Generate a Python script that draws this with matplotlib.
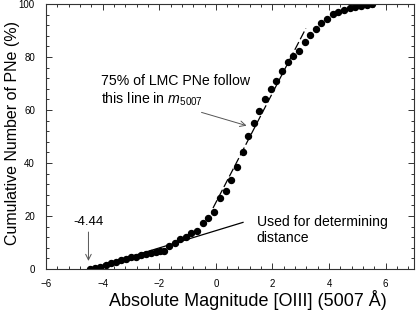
import matplotlib
matplotlib.use("Agg")
import matplotlib.pyplot as plt
from matplotlib.ticker import MultipleLocator

plt.rcParams['font.family'] = ['Liberation Sans', 'DejaVu Sans']
plt.rcParams['mathtext.fontset'] = 'custom'
plt.rcParams['mathtext.rm'] = 'Liberation Sans'
plt.rcParams['mathtext.it'] = 'Liberation Sans:italic'

# Cumulative PNLF points
mag = [-4.45, -4.27, -4.09, -3.89, -3.71, -3.54, -3.35, -3.19, -3.00, -2.83,
       -2.65, -2.47, -2.29, -2.12, -1.98, -1.82, -1.65, -1.45, -1.25, -1.06,
       -0.86, -0.66, -0.47, -0.27, -0.08, 0.13, 0.35, 0.55, 0.75, 0.95,
       1.14, 1.35, 1.54, 1.74, 1.94, 2.14, 2.34, 2.54, 2.74, 2.93,
       3.14, 3.34, 3.53, 3.73, 3.93, 4.14, 4.32, 4.53, 4.73, 4.93,
       5.14, 5.34, 5.53]
cum = [0.0, 0.4, 0.9, 1.5, 2.1, 2.6, 3.3, 3.8, 4.4, 4.7,
       5.3, 5.7, 6.2, 6.5, 6.8, 6.9, 8.7, 9.9, 11.3, 12.2,
       13.5, 14.2, 17.2, 19.3, 21.5, 26.7, 29.5, 33.6, 38.4, 44.3,
       50.2, 55.0, 59.7, 64.0, 67.8, 71.1, 74.8, 78.1, 80.4, 82.4,
       85.8, 88.4, 90.4, 92.7, 94.4, 96.2, 97.1, 97.7, 98.4, 99.0,
       99.4, 99.7, 100.0]

# straight-line fits drawn on the chart
solid_x = [-4.44, 0.96]
solid_y = [0.0, 17.6]
dash_x = [-0.10, 3.18]
dash_y = [23.0, 90.8]

fig = plt.figure(figsize=(4.2, 3.16), dpi=100)
ax = fig.add_axes([0.1095, 0.1487, 0.8762, 0.8386])

ax.plot(solid_x, solid_y, color='black', lw=0.9)
ax.plot(dash_x, dash_y, color='black', lw=0.9, dashes=(7, 2.5))
ax.plot(mag, cum, 'o', color='black', ms=4.3, mec='black')

ax.set_xlim(-6, 7)
ax.set_ylim(0, 100)
ax.xaxis.set_major_locator(MultipleLocator(2))
ax.xaxis.set_minor_locator(MultipleLocator(0.4))
ax.yaxis.set_major_locator(MultipleLocator(20))
ax.yaxis.set_minor_locator(MultipleLocator(4))
ax.tick_params(which='both', direction='in', top=True, right=True,
               labelsize=7, width=0.7, color='#333333')
ax.tick_params(axis='x', which='major', pad=7)
ax.tick_params(axis='y', which='major', pad=8)
ax.tick_params(which='major', length=4.5)
ax.tick_params(which='minor', length=2.5)
for s in ax.spines.values():
    s.set_linewidth(0.8)
    s.set_color('#333333')

ax.set_xlabel('Absolute Magnitude [OIII] (5007 Å)', fontsize=13)
ax.set_ylabel('Cumulative Number of PNe (%)', fontsize=11.5)
ax.xaxis.set_label_coords(0.548, -0.117)
ax.yaxis.set_label_coords(-0.092, 0.515)
ax.xaxis.label.set_va('center')
ax.yaxis.label.set_va('center')

# annotations
ax.annotate('', xy=(-4.50, 2.0), xytext=(-4.50, 15.0),
            arrowprops=dict(arrowstyle='->', color='#555555', lw=0.7))
ax.text(-4.50, 17.8, '-4.44', fontsize=9.5, ha='center', va='center')

ax.text(-4.07, 67.2, '75% of LMC PNe follow\nthis line in $m_{5007}$',
        fontsize=10.2, ha='left', va='center', linespacing=1.2)
ax.annotate('', xy=(1.18, 53.8), xytext=(-0.60, 59.4),
            arrowprops=dict(arrowstyle='->', color='#555555', lw=0.7))

ax.text(1.44, 14.8, 'Used for determining\ndistance',
        fontsize=10.1, ha='left', va='center', linespacing=1.2)

fig.savefig('out.png', dpi=100)
